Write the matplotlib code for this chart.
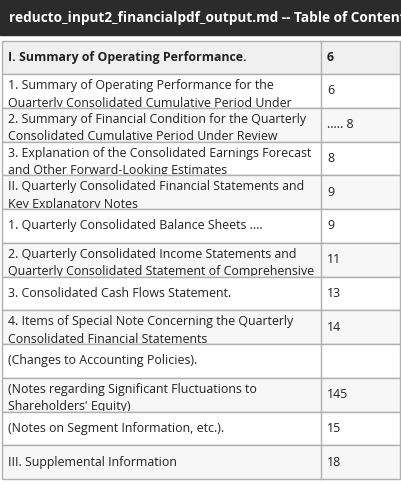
import matplotlib.pyplot as plt
from matplotlib.patches import Rectangle

plt.rcParams['font.family'] = ['Open Sans', 'DejaVu Sans']

title = "reducto_input2_financialpdf_output.md -- Table of Contents"
header = ("I. Summary of Operating Performance.", "6")
sections = [
    ("1. Summary of Operating Performance for the\nQuarterly Consolidated Cumulative Period Under", "6"),
    ("2. Summary of Financial Condition for the Quarterly\nConsolidated Cumulative Period Under Review", "..... 8"),
    ("3. Explanation of the Consolidated Earnings Forecast\nand Other Forward-Looking Estimates", "8"),
    ("II. Quarterly Consolidated Financial Statements and\nKey Explanatory Notes", "9"),
    ("1. Quarterly Consolidated Balance Sheets ....", "9"),
    ("2. Quarterly Consolidated Income Statements and\nQuarterly Consolidated Statement of Comprehensive", "11"),
    ("3. Consolidated Cash Flows Statement.", "13"),
    ("4. Items of Special Note Concerning the Quarterly\nConsolidated Financial Statements", "14"),
    ("(Changes to Accounting Policies).", ""),
    ("(Notes regarding Significant Fluctuations to\nShareholders' Equity)", "145"),
    ("(Notes on Segment Information, etc.).", "15"),
    ("III. Supplemental Information", "18"),
]

W, H = 402, 484
fig = plt.figure(figsize=(W / 100, H / 100), dpi=100)
ax = fig.add_axes([0, 0, 1, 1])
ax.set_xlim(0, W)
ax.set_ylim(H, 0)
ax.axis('off')

# title bar
ax.add_patch(Rectangle((0, 0), W, 35, color='#2b2b2b', zorder=1))
ax.text(9, 18, title, color='white', fontsize=9.8, fontweight='bold',
        va='center', ha='left', zorder=2, clip_on=True)

x0, xdiv, x1 = 2, 321, 400
top, hh = 41, 33
rh = (479 - top - hh) / len(sections)
border = '#b0b0b0'


def cell_row(y, h, label, page, bg, bold=False):
    ax.add_patch(Rectangle((x0, y), x1 - x0, h, facecolor=bg,
                           edgecolor=border, lw=1, zorder=1))
    ax.plot([xdiv, xdiv], [y, y + h], color=border, lw=1, zorder=3)
    clip = Rectangle((x0, y + 1), xdiv - x0, h - 2, transform=ax.transData)
    nlines = label.count('\n') + 1
    if nlines == 1:
        t = ax.text(x0 + 6, y + h / 2, label, fontsize=8.9, color='#222222',
                    va='center', ha='left', fontweight='bold' if bold else 'normal', zorder=2)
    else:
        t = ax.text(x0 + 6, y + 5, label, fontsize=8.9, color='#222222',
                    va='top', ha='left', linespacing=1.45, zorder=2)
    t.set_clip_path(clip)
    t.set_clip_on(True)
    ax.text(xdiv + 6, y + h / 2, page, fontsize=8.9, color='#222222',
            va='center', ha='left', fontweight='bold' if bold else 'normal', zorder=2)


cell_row(top, hh, header[0], header[1], '#f0f0f0', bold=True)
for i, (label, page) in enumerate(sections):
    y = top + hh + i * rh
    bg = '#ffffff' if i % 2 == 0 else '#f7f7f7'
    cell_row(y, rh, label, page, bg)

fig.savefig('out.png', dpi=100)
